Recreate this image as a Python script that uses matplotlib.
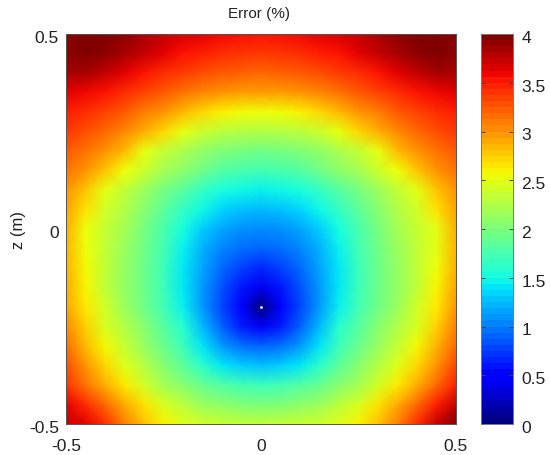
import numpy as np
import matplotlib
matplotlib.use('Agg')
import matplotlib.pyplot as plt
from matplotlib.transforms import ScaledTranslation

plt.rcParams['font.family'] = ['Liberation Sans', 'DejaVu Sans']
plt.rcParams['font.size'] = 12.5

# grid nodes, 5 cm apart, values estimated from the colours in the picture
x_nodes = [-0.5, -0.45, -0.4, -0.35, -0.3, -0.25, -0.2, -0.15, -0.1, -0.05, 0,
           0.05, 0.1, 0.15, 0.2, 0.25, 0.3, 0.35, 0.4, 0.45, 0.5]
z_nodes = [0.5, 0.45, 0.4, 0.35, 0.3, 0.25, 0.2, 0.15, 0.1, 0.05, 0,
           -0.05, -0.1, -0.15, -0.2, -0.25, -0.3, -0.35, -0.4, -0.45, -0.5]

# error in %, one row per z node, left to right
err_rows = [
    [3.95, 4.0, 4.0, 3.95, 3.85, 3.75, 3.7, 3.65, 3.6, 3.57, 3.55, 3.57, 3.6, 3.65, 3.7, 3.75, 3.85, 3.95, 4.0, 4.0, 3.95],
    [3.95, 4.0, 3.95, 3.85, 3.75, 3.65, 3.55, 3.5, 3.45, 3.42, 3.4, 3.42, 3.45, 3.5, 3.55, 3.65, 3.75, 3.85, 3.95, 4.0, 3.95],
    [3.85, 3.85, 3.75, 3.65, 3.55, 3.45, 3.38, 3.3, 3.25, 3.22, 3.2, 3.22, 3.25, 3.3, 3.38, 3.45, 3.55, 3.65, 3.75, 3.85, 3.85],
    [3.65, 3.6, 3.55, 3.45, 3.35, 3.25, 3.15, 3.07, 3.0, 2.98, 2.97, 2.98, 3.0, 3.07, 3.15, 3.25, 3.35, 3.45, 3.55, 3.6, 3.65],
    [3.5, 3.45, 3.35, 3.25, 3.1, 3.0, 2.85, 2.72, 2.62, 2.57, 2.55, 2.57, 2.62, 2.72, 2.85, 3.0, 3.1, 3.25, 3.35, 3.45, 3.5],
    [3.4, 3.3, 3.2, 3.05, 2.9, 2.72, 2.52, 2.38, 2.3, 2.27, 2.25, 2.27, 2.3, 2.38, 2.52, 2.72, 2.9, 3.05, 3.2, 3.3, 3.4],
    [3.25, 3.15, 3.0, 2.85, 2.52, 2.35, 2.22, 2.1, 2.02, 1.97, 1.95, 1.97, 2.02, 2.1, 2.22, 2.35, 2.52, 2.85, 3.0, 3.15, 3.25],
    [3.15, 3.0, 2.8, 2.55, 2.38, 2.2, 2.08, 1.95, 1.8, 1.75, 1.72, 1.75, 1.8, 1.95, 2.08, 2.2, 2.38, 2.55, 2.8, 3.0, 3.15],
    [3.0, 2.8, 2.5, 2.33, 2.15, 1.97, 1.82, 1.65, 1.53, 1.47, 1.45, 1.47, 1.53, 1.65, 1.82, 1.97, 2.15, 2.33, 2.5, 2.8, 3.0],
    [2.95, 2.68, 2.42, 2.25, 2.05, 1.85, 1.65, 1.47, 1.33, 1.25, 1.22, 1.25, 1.33, 1.47, 1.65, 1.85, 2.05, 2.25, 2.42, 2.68, 2.95],
    [2.9, 2.55, 2.35, 2.2, 1.97, 1.75, 1.5, 1.3, 1.15, 1.07, 1.05, 1.07, 1.15, 1.3, 1.5, 1.75, 1.97, 2.2, 2.35, 2.5, 2.9],
    [2.88, 2.55, 2.33, 2.15, 1.95, 1.72, 1.45, 1.2, 1.02, 0.93, 0.9, 0.93, 1.02, 1.2, 1.45, 1.72, 1.95, 2.15, 2.33, 2.5, 2.88],
    [2.88, 2.58, 2.33, 2.12, 1.93, 1.7, 1.42, 1.15, 0.92, 0.75, 0.65, 0.75, 0.92, 1.15, 1.42, 1.7, 1.93, 2.12, 2.33, 2.55, 2.9],
    [2.92, 2.6, 2.33, 2.12, 1.93, 1.7, 1.42, 1.1, 0.82, 0.58, 0.4, 0.58, 0.82, 1.1, 1.42, 1.7, 1.93, 2.12, 2.33, 2.6, 2.95],
    [2.95, 2.65, 2.42, 2.15, 1.95, 1.72, 1.45, 1.1, 0.78, 0.45, 0.0, 0.45, 0.78, 1.1, 1.45, 1.72, 1.95, 2.15, 2.42, 2.65, 3.0],
    [3.05, 2.75, 2.45, 2.25, 2.05, 1.82, 1.58, 1.22, 0.88, 0.6, 0.42, 0.6, 0.88, 1.22, 1.58, 1.82, 2.05, 2.25, 2.45, 2.75, 3.1],
    [3.18, 2.85, 2.58, 2.35, 2.13, 1.92, 1.7, 1.4, 1.1, 0.95, 0.9, 0.95, 1.1, 1.4, 1.7, 1.92, 2.13, 2.35, 2.58, 2.88, 3.2],
    [3.3, 3.0, 2.72, 2.47, 2.27, 2.05, 1.85, 1.62, 1.42, 1.3, 1.25, 1.3, 1.42, 1.62, 1.85, 2.05, 2.27, 2.47, 2.72, 3.0, 3.35],
    [3.42, 3.15, 2.9, 2.65, 2.42, 2.2, 2.05, 1.9, 1.8, 1.72, 1.7, 1.72, 1.8, 1.9, 2.05, 2.2, 2.42, 2.65, 2.9, 3.2, 3.5],
    [3.65, 3.45, 3.2, 2.92, 2.68, 2.45, 2.3, 2.15, 2.08, 2.02, 2.0, 2.02, 2.08, 2.15, 2.3, 2.45, 2.68, 2.92, 3.2, 3.5, 3.75],
    [3.75, 3.65, 3.45, 3.1, 2.82, 2.62, 2.47, 2.4, 2.36, 2.33, 2.32, 2.33, 2.36, 2.4, 2.47, 2.62, 2.82, 3.1, 3.45, 3.75, 4.0],
]
err = np.array(err_rows)

min_x = [0]
min_z = [-0.2]

axis_ticks = [-0.5, 0, 0.5]
axis_labels = ['-0.5', '0', '0.5']
cbar_ticks = [0, 0.5, 1, 1.5, 2, 2.5, 3, 3.5, 4]
cbar_labels = ['0', '0.5', '1', '1.5', '2', '2.5', '3', '3.5', '4']

W, H = 550.0, 456.0
fig = plt.figure(figsize=(W/100, H/100), dpi=100)
ax = fig.add_axes([66/W, 1-425/H, 390/W, 390/H])
cax = fig.add_axes([481/W, 1-425/H, 32/W, 390/H])

cmap = plt.get_cmap('jet', 64)
mesh = ax.pcolormesh(x_nodes, z_nodes, err, cmap=plt.get_cmap('jet', 256), vmin=0, vmax=4,
                     shading='gouraud', rasterized=True)
ax.plot(min_x, min_z, marker='o', ms=2, color='white', mew=0, ls='none')

ax.set_xlim(-0.5, 0.5)
ax.set_ylim(-0.5, 0.5)
ax.set_xticks(axis_ticks)
ax.set_xticklabels(axis_labels)
ax.set_yticks(axis_ticks)
ax.set_yticklabels(axis_labels)
ax.tick_params(length=0, colors='#222222')
ax.tick_params(axis='x', pad=10)
ax.tick_params(axis='y', pad=5)
ax.set_ylabel('z (m)', labelpad=2, color='#222222', fontsize=12)
ax.set_title('Error (%)', x=0.495, pad=12, fontsize=11, color='#222222')
for s in ax.spines.values():
    s.set_linewidth(0.7)
    s.set_color('#555555')

sm = matplotlib.cm.ScalarMappable(norm=matplotlib.colors.Normalize(0, 4), cmap=cmap)
cb = fig.colorbar(sm, cax=cax)
cb.set_ticks(cbar_ticks)
cb.set_ticklabels(cbar_labels)
cax.tick_params(length=3, width=0.7, direction='in', left=True, right=True, pad=6,
                labelsize=12.5, color='#444444', labelcolor='#222222')
cb.outline.set_linewidth(0.7)
cb.outline.set_edgecolor('#777777')

# tick labels sit a little below their ticks in the original
shift = ScaledTranslation(0, -2/100, fig.dpi_scale_trans)
for lab in ax.get_yticklabels() + cax.get_yticklabels():
    lab.set_transform(lab.get_transform() + shift)

fig.savefig('out.png', dpi=100)
